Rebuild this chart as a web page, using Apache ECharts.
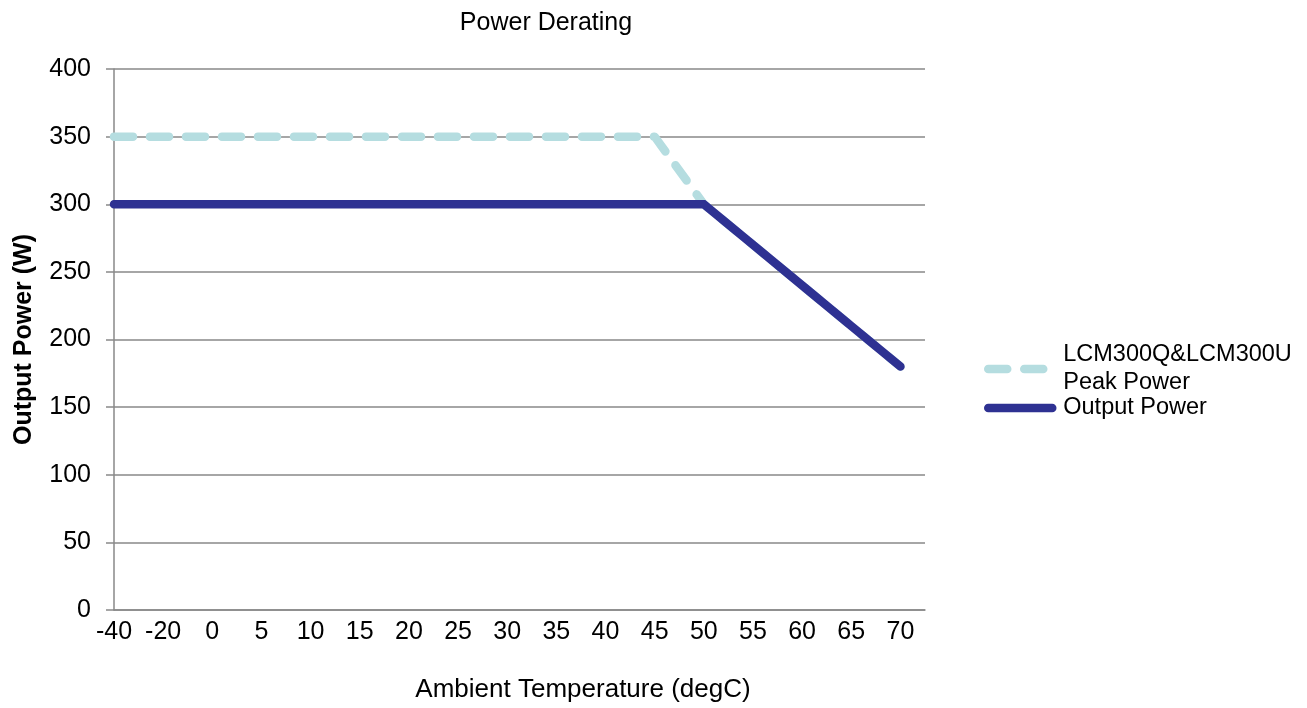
<!DOCTYPE html>
<html>
<head>
<meta charset="utf-8">
<title>Power Derating</title>
<script src="https://cdn.jsdelivr.net/npm/echarts@6/dist/echarts.min.js"></script>
<style>
  html, body { margin: 0; padding: 0; background: #ffffff; }
  #chart { width: 1307px; height: 708px; }
</style>
</head>
<body>
<div id="chart"></div>
<script>
// Ambient temperature categories (degC), evenly spaced along the axis
const temperatures = ['-40', '-20', '0', '5', '10', '15', '20', '25', '30', '35', '40', '45', '50', '55', '60', '65', '70'];
// Peak power rating (W)
const peakPower = [350, 350, 350, 350, 350, 350, 350, 350, 350, 350, 350, 350, 300, 270, 240, 210, 180];
// Continuous output power rating (W)
const outputPower = [300, 300, 300, 300, 300, 300, 300, 300, 300, 300, 300, 300, 300, 270, 240, 210, 180];
// Output power tick values
const powerTicks = [0, 50, 100, 150, 200, 250, 300, 350, 400];

const FONT = '"Liberation Sans", Arial, sans-serif';
const AXIS_GRAY = '#898989';

// Category index is used as the x value so the plot can extend half a step past the last category
const toPoints = vals => vals.map((v, i) => [i, v]);

const chart = echarts.init(document.getElementById('chart'), null, { renderer: 'canvas' });

chart.setOption({
  backgroundColor: '#ffffff',
  animation: false,
  textStyle: { fontFamily: FONT, color: '#000000' },
  title: {
    text: 'Power Derating',
    left: 541,
    top: 6,
    textAlign: 'center',
    textStyle: { fontFamily: FONT, fontSize: 25, fontWeight: 'normal', color: '#000000' }
  },
  grid: { left: 114, right: 382, top: 69, bottom: 95, containLabel: false },
  legend: {
    orient: 'vertical',
    left: 984,
    top: 341,
    padding: 0,
    itemWidth: 64,
    itemHeight: 12,
    itemGap: -3,
    lineStyle: { width: 'inherit' },
    itemStyle: { opacity: 0 },
    textStyle: { fontFamily: FONT, fontSize: 23.5, color: '#000000', lineHeight: 28, padding: [0, 0, 0, 6] },
    data: [
      { name: 'LCM300Q&LCM300U\nPeak Power' },
      { name: 'Output Power' }
    ]
  },
  xAxis: {
    type: 'value',
    min: 0,
    max: temperatures.length - 0.5,
    interval: 1,
    name: 'Ambient Temperature (degC)',
    nameLocation: 'middle',
    nameGap: 67,
    nameTextStyle: { fontFamily: FONT, fontSize: 26, color: '#000000', padding: [0, 0, 0, 127] },
    axisLine: { show: true, lineStyle: { color: AXIS_GRAY, width: 1.5 } },
    axisTick: { show: false },
    splitLine: { show: false },
    axisLabel: {
      margin: 10,
      fontFamily: FONT,
      fontSize: 25,
      color: '#000000',
      showMaxLabel: false,
      formatter: v => (Number.isInteger(v) && temperatures[v] !== undefined) ? temperatures[v] : ''
    }
  },
  yAxis: {
    type: 'value',
    min: powerTicks[0],
    max: powerTicks[powerTicks.length - 1],
    interval: powerTicks[1] - powerTicks[0],
    name: 'Output Power (W)',
    nameLocation: 'middle',
    nameRotate: 90,
    nameGap: 77,
    nameTextStyle: { fontFamily: FONT, fontSize: 25, fontWeight: 'bold', color: '#000000' },
    axisLine: { show: true, lineStyle: { color: AXIS_GRAY, width: 1.5 } },
    axisTick: { show: true, length: 8, lineStyle: { color: AXIS_GRAY, width: 1.5 } },
    splitLine: { show: true, lineStyle: { color: AXIS_GRAY, width: 1.5 } },
    axisLabel: { margin: 23, fontFamily: FONT, fontSize: 25, color: '#000000' }
  },
  series: [
    {
      name: 'LCM300Q&LCM300U\nPeak Power',
      type: 'line',
      data: toPoints(peakPower),
      symbol: 'none',
      z: 2,
      color: '#b5dde0',
      lineStyle: { color: '#b5dde0', width: 8.5, type: [19, 17], cap: 'round', join: 'round' }
    },
    {
      name: 'Output Power',
      type: 'line',
      data: toPoints(outputPower),
      symbol: 'none',
      z: 3,
      color: '#2e3192',
      lineStyle: { color: '#2e3192', width: 8.5, type: 'solid', cap: 'round', join: 'miter' }
    }
  ]
});
</script>
</body>
</html>
